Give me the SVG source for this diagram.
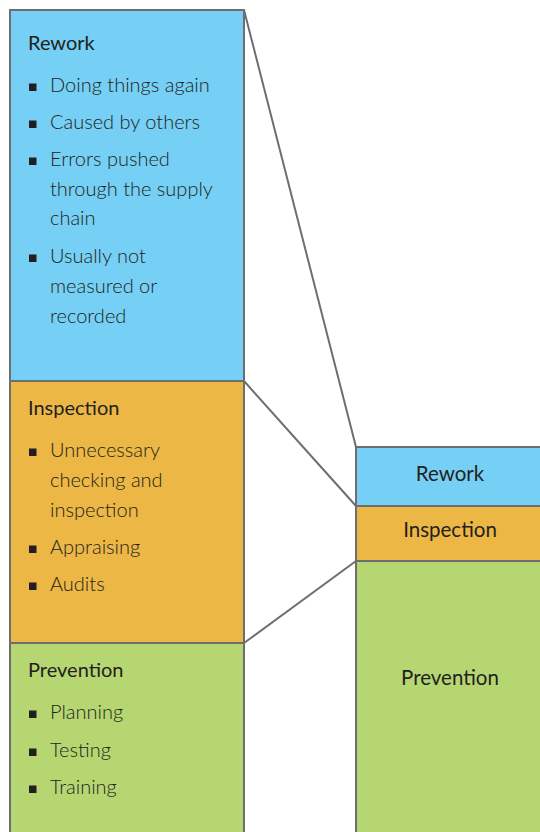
<svg xmlns="http://www.w3.org/2000/svg" width="540" height="832" viewBox="0 0 540 832">
  <style>
    .box { stroke: #6d6e71; stroke-width: 2; }
    .rw { fill: #76cff4; }
    .in { fill: #ecb744; }
    .pv { fill: #b6d672; }
    .link { stroke: #6d6e71; stroke-width: 2; fill: none; }
    .head { font-family: Lato, "Liberation Sans", sans-serif; font-size: 20px; fill: #231f20; }
    .item { font-family: Lato, "Liberation Sans", sans-serif; font-size: 20px; font-weight: 300; fill: #231f20; }
    .label { font-family: Lato, "Liberation Sans", sans-serif; font-size: 20.5px; fill: #231f20; text-anchor: middle; }
    .dot { fill: #231f20; }
  </style>

  <!-- connectors between the detailed column and the summary column -->
  <g id="connectors">
    <line class="link" x1="244" y1="10" x2="356" y2="447"/>
    <line class="link" x1="244" y1="381" x2="356" y2="506"/>
    <line class="link" x1="244" y1="643" x2="356" y2="561"/>
  </g>

  <!-- detailed column -->
  <g id="rework-detail">
    <rect class="box rw" x="10" y="10" width="234" height="371"/>
    <text class="head" x="28" y="49.5">Rework</text>
    <rect class="dot" x="29" y="83.5" width="7.5" height="7.5"/>
    <text class="item" x="50" y="91.5">Doing things again</text>
    <rect class="dot" x="29" y="120.5" width="7.5" height="7.5"/>
    <text class="item" x="50" y="128.5">Caused by others</text>
    <rect class="dot" x="29" y="157.5" width="7.5" height="7.5"/>
    <text class="item" x="50" y="165.5">Errors pushed</text>
    <text class="item" x="50" y="195.5">through the supply</text>
    <text class="item" x="50" y="225">chain</text>
    <rect class="dot" x="29" y="254.5" width="7.5" height="7.5"/>
    <text class="item" x="50" y="262.5">Usually not</text>
    <text class="item" x="50" y="292.5">measured or</text>
    <text class="item" x="50" y="322.5">recorded</text>
  </g>

  <g id="inspection-detail">
    <rect class="box in" x="10" y="381" width="234" height="262"/>
    <text class="head" x="28" y="414.5">Inspection</text>
    <rect class="dot" x="29" y="448.5" width="7.5" height="7.5"/>
    <text class="item" x="50" y="456.5">Unnecessary</text>
    <text class="item" x="50" y="486.5">checking and</text>
    <text class="item" x="50" y="516.5">inspection</text>
    <rect class="dot" x="29" y="545.5" width="7.5" height="7.5"/>
    <text class="item" x="50" y="553.5">Appraising</text>
    <rect class="dot" x="29" y="582.5" width="7.5" height="7.5"/>
    <text class="item" x="50" y="590.5">Audits</text>
  </g>

  <g id="prevention-detail">
    <rect class="box pv" x="10" y="643" width="234" height="200"/>
    <text class="head" x="28" y="677">Prevention</text>
    <rect class="dot" x="29" y="710.5" width="7.5" height="7.5"/>
    <text class="item" x="50" y="719">Planning</text>
    <rect class="dot" x="29" y="748.5" width="7.5" height="7.5"/>
    <text class="item" x="50" y="756.5">Testing</text>
    <rect class="dot" x="29" y="785.5" width="7.5" height="7.5"/>
    <text class="item" x="50" y="793.5">Training</text>
  </g>

  <!-- summary column -->
  <g id="rework-summary">
    <rect class="box rw" x="356" y="447" width="200" height="59"/>
    <text class="label" x="450" y="481">Rework</text>
  </g>
  <g id="inspection-summary">
    <rect class="box in" x="356" y="506" width="200" height="55"/>
    <text class="label" x="450" y="537">Inspection</text>
  </g>
  <g id="prevention-summary">
    <rect class="box pv" x="356" y="561" width="200" height="290"/>
    <text class="label" x="450" y="685">Prevention</text>
  </g>
</svg>
